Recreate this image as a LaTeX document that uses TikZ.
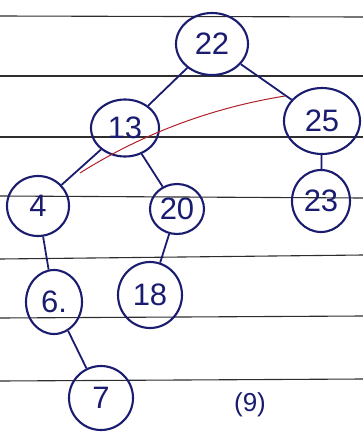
\documentclass[tikz,border=0pt]{standalone}
\usepackage{fontspec}
\setmainfont{Liberation Sans}
\usepackage{tikz}
\usetikzlibrary{shapes.geometric}
\definecolor{inkBlue}{HTML}{1A1C70}
\definecolor{ruleGrey}{HTML}{2E2E2E}
\definecolor{markRed}{HTML}{B0202A}
\tikzset{
  keynode/.style 2 args={ellipse, draw=inkBlue, line width=2.1pt, text=inkBlue, minimum width=#1, minimum height=#2, inner sep=0pt, font=\fontsize{31}{31}\selectfont},
  treeedge/.style={draw=inkBlue, line width=1.8pt},
  paperline/.style={draw=ruleGrey, line width=1.1pt},
  marknote/.style={text=inkBlue, font=\fontsize{26}{26}\selectfont},
}

\begin{document}
\begin{tikzpicture}[x=1pt,y=-1pt]
  \useasboundingbox[fill=white] (0,0) rectangle (363,437);
  % ruled paper
  \foreach \yl/\yr in {16/17, 76/76, 137/137, 196/198, 259/255, 318/316, 381/379} { \draw[paperline] (0,\yl) -- (363,\yr); }

  \node[keynode={72pt}{62pt}] (k22) at (212,44) {22};
  \node[keynode={68pt}{57pt}] (k13) at (125,128) {13};
  \node[keynode={76pt}{66pt}] (k25) at (322,121) {25};
  \node[keynode={62pt}{60pt}] (k4) at (38,206) {4};
  \node[keynode={54pt}{50pt}] (k20) at (177,209) {20};
  \node[keynode={58pt}{62pt}] (k23) at (321,201) {23};
  \node[keynode={56pt}{64pt}] (k6) at (54,302) {6.};
  \node[keynode={64pt}{66pt}] (k18) at (150,295) {18};
  \node[keynode={64pt}{64pt}] (k7) at (101,398) {7};
  \node[marknote] (qnum) at (250,405) {(9)};

  \foreach \a/\b in {k22/k13, k22/k25, k13/k4, k13/k20, k25/k23, k4/k6, k20/k18, k6/k7} { \draw[treeedge] (\a) -- (\b); }

  % red stroke across the left subtree
  \coordinate (redA) at (80,173);
  \coordinate (redB) at (285,96);
  \draw[markRed, line width=1pt] (redA) .. controls (140,135) and (210,108) .. (redB);
\end{tikzpicture}
\end{document}
